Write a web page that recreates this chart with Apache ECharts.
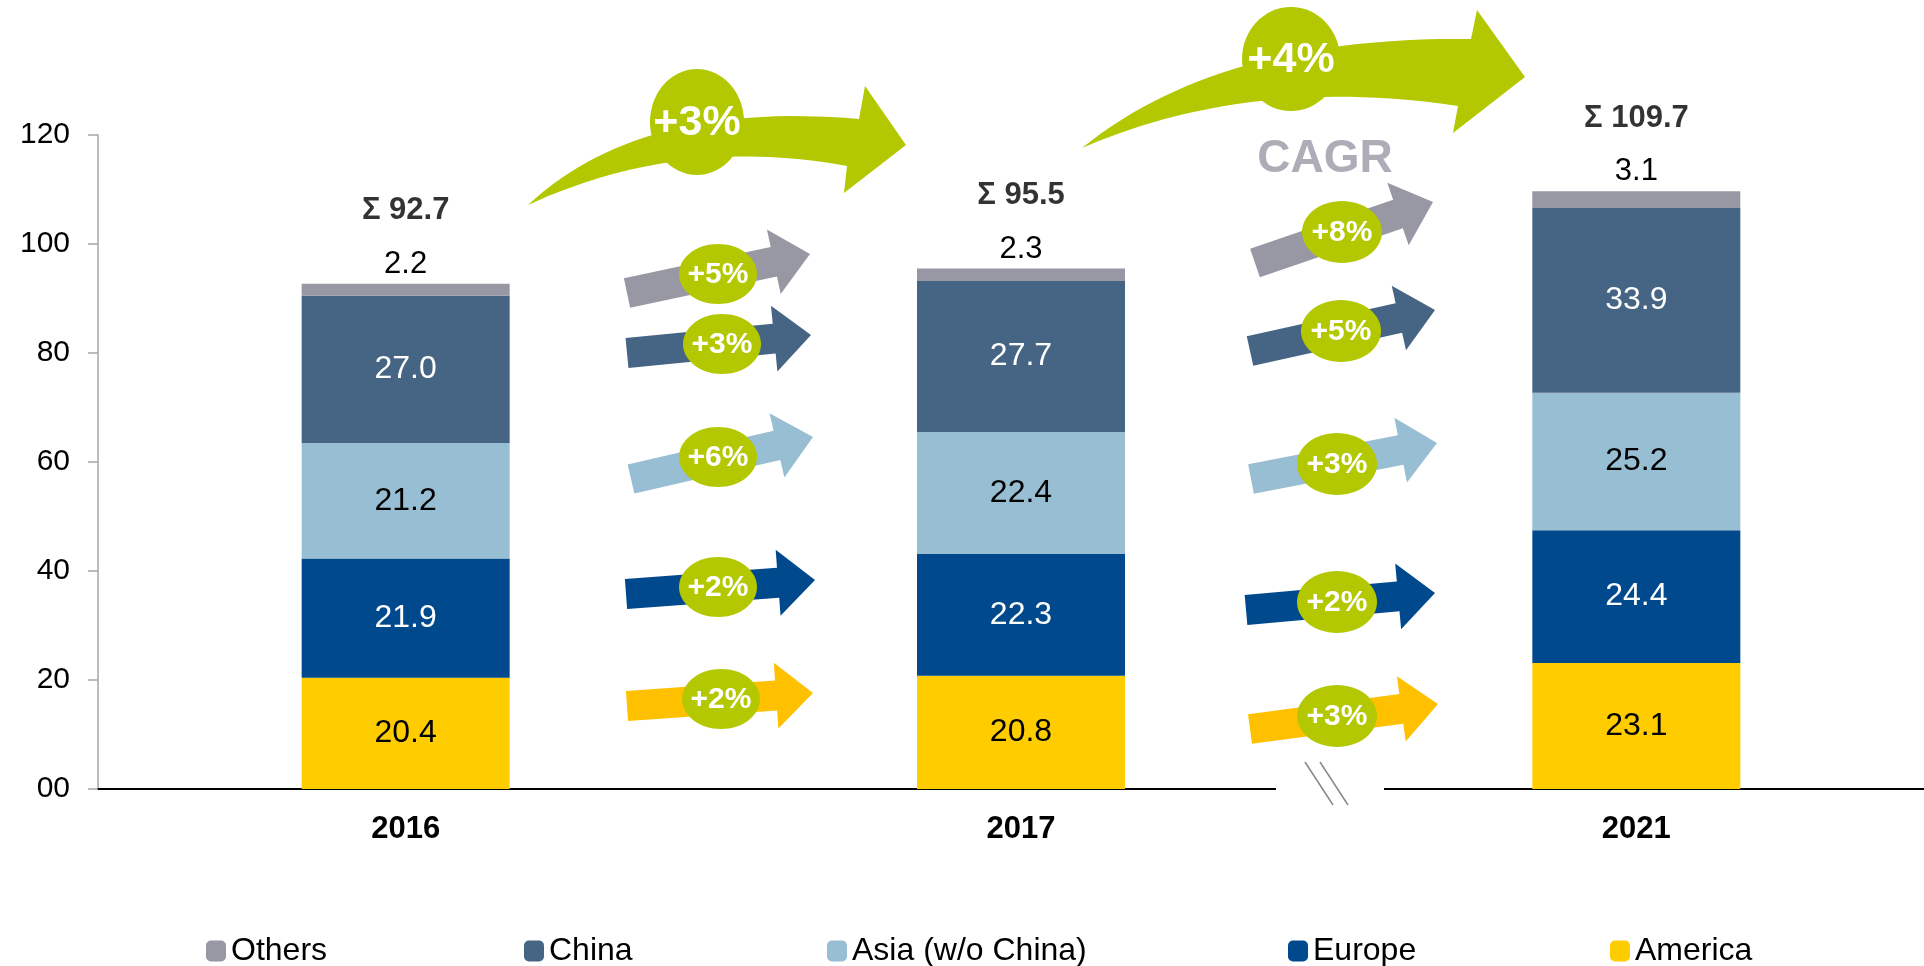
<!DOCTYPE html>
<html>
<head>
<meta charset="utf-8">
<script src="https://cdn.jsdelivr.net/npm/echarts@6/dist/echarts.min.js"></script>
<style>
html,body{margin:0;padding:0;background:#fff;overflow:hidden;width:1924px;height:966px;}
#chart{width:1944px;height:966px;}
</style>
</head>
<body>
<div id="chart"></div>
<script>
// ---- data ----
const categories = ['2016', '2017', '2021'];
const america = [20.4, 20.8, 23.1];
const europe = [21.9, 22.3, 24.4];
const asia = [21.2, 22.4, 25.2];
const china = [27.0, 27.7, 33.9];
const others = [2.2, 2.3, 3.1];
const totals = [92.7, 95.5, 109.7];
const seriesNames = ['Others', 'China', 'Asia (w/o China)', 'Europe', 'America'];
const growth2016to2017 = ['+5%', '+3%', '+6%', '+2%', '+2%']; // Others, China, Asia, Europe, America
const growth2017to2021 = ['+8%', '+5%', '+3%', '+2%', '+3%'];
const totalGrowth = ['+3%', '+4%'];
const cagrLabel = 'CAGR';

// ---- styles / layout ----
const FONT = "'Liberation Sans', Arial, sans-serif";
const colors = {
  'Others': '#9897A4',
  'China': '#466483',
  'Asia (w/o China)': '#97BED2',
  'Europe': '#00498D',
  'America': '#FFCC00'
};
const arrowColors = ['#9897A4', '#466483', '#97BED2', '#00498D', '#FFC000'];
const GREEN = '#B3C800';
const legendLeft = [206, 524, 827, 1288, 1610];

const chart = echarts.init(document.getElementById('chart'));

function segLabel(color) {
  return {
    show: true, position: 'inside', color: color, fontSize: 32, fontFamily: FONT,
    formatter: p => p.value.toFixed(1)
  };
}

function bar(name, data, labelColor, extra) {
  return Object.assign({
    name: name, type: 'bar', stack: 'total', data: data, barWidth: 208,
    itemStyle: { color: colors[name] },
    label: segLabel(labelColor),
    emphasis: { disabled: true }
  }, extra || {});
}

// small straight arrows (decoration): [tailX, tailY, tipX, tipY]
const arrowsCol1 = [[627,293,810,254],[627,353,811,335],[631,479,813,437],[626,594,815,580],[627,706,813,693]];
const badgesCol1 = [[718,274],[722,344],[718,457],[718,587],[721,699]];
const arrowsCol2 = [[1255,263,1433,202],[1250,351,1435,310],[1251,479,1437,443],[1246,610,1435,593],[1250,729,1438,704]];
const badgesCol2 = [[1342,232],[1341,331],[1337,464],[1337,602],[1337,716]];

function arrowPoly(a, color) {
  const [tx, ty, hx, hy] = a;
  const L = Math.hypot(hx - tx, hy - ty);
  const dx = (hx - tx) / L, dy = (hy - ty) / L;
  const nx = -dy, ny = dx;
  const sw = 15, hw = 33, hl = 37;
  const bx = hx - dx * hl, by = hy - dy * hl;
  const pts = [
    [tx + nx * sw, ty + ny * sw],
    [bx + nx * sw, by + ny * sw],
    [bx + nx * hw, by + ny * hw],
    [hx, hy],
    [bx - nx * hw, by - ny * hw],
    [bx - nx * sw, by - ny * sw],
    [tx - nx * sw, ty - ny * sw]
  ];
  return { type: 'polygon', z: 50, shape: { points: pts }, style: { fill: color } };
}
function quad(p0, c, p1, n) {
  const out = [];
  for (let i = 0; i <= n; i++) {
    const t = i / n, u = 1 - t;
    out.push([u * u * p0[0] + 2 * u * t * c[0] + t * t * p1[0], u * u * p0[1] + 2 * u * t * c[1] + t * t * p1[1]]);
  }
  return out;
}
function curvedArrow(tail, cUp, baseTop, outTop, tip, outBot, baseBot, cLow) {
  const pts = quad(tail, cUp, baseTop, 30)
    .concat([outTop, tip, outBot])
    .concat(quad(baseBot, cLow, tail, 30));
  return { type: 'polygon', z: 50, shape: { points: pts }, style: { fill: GREEN } };
}
function badge(c, text, rx, ry, fs) {
  return [
    { type: 'ellipse', z: 51, shape: { cx: c[0], cy: c[1], rx: rx, ry: ry }, style: { fill: GREEN } },
    { type: 'text', z: 52, style: { text: text, x: c[0], y: c[1] + 1, align: 'center', verticalAlign: 'middle',
      fill: '#fff', font: 'bold ' + fs + 'px ' + FONT } }
  ];
}

const graphics = [];
arrowsCol1.forEach((a, i) => { graphics.push(arrowPoly(a, arrowColors[i])); graphics.push(...badge(badgesCol1[i], growth2016to2017[i], 39, 30, 30)); });
arrowsCol2.forEach((a, i) => { graphics.push(arrowPoly(a, arrowColors[i])); graphics.push(...badge(badgesCol2[i], growth2017to2021[i], 40, 31, 30)); });
// big curved arrows
graphics.push(curvedArrow([528,205],[640,100],[859,119],[865,86],[906,145],[844,193],[847,166],[680,135]));
graphics.push(...badge([697, 122], totalGrowth[0], 47, 53, 43));
graphics.push(curvedArrow([1082,148],[1220,36],[1471,39],[1477,10],[1525,77],[1453,133],[1458,106],[1250,75]));
graphics.push(...badge([1291, 59], totalGrowth[1], 49, 52, 43));
graphics.push({ type: 'text', z: 52, style: { text: cagrLabel, x: 1325, y: 159, align: 'center', verticalAlign: 'middle', fill: '#ADADB8', font: 'bold 46px ' + FONT } });
// axis break
graphics.push({ type: 'rect', z: 60, shape: { x: 1276, y: 784, width: 108, height: 10 }, style: { fill: '#fff' } });
graphics.push({ type: 'line', z: 61, shape: { x1: 1305, y1: 762, x2: 1333, y2: 805 }, style: { stroke: '#888', lineWidth: 1.5 } });
graphics.push({ type: 'line', z: 61, shape: { x1: 1320, y1: 762, x2: 1348, y2: 805 }, style: { stroke: '#888', lineWidth: 1.5 } });

const option = {
  backgroundColor: '#fff',
  animation: false,
  textStyle: { fontFamily: FONT },
  grid: { left: 98, top: 135, right: 0, height: 654, containLabel: false },
  legend: seriesNames.map((n, i) => ({
    data: [n], left: legendLeft[i], top: 935, padding: 0, icon: 'roundRect',
    itemWidth: 20, itemHeight: 21, selectedMode: false,
    textStyle: { fontSize: 32, color: '#000', fontFamily: FONT }
  })),
  xAxis: {
    type: 'category', data: categories,
    axisLine: { show: true, lineStyle: { color: '#000', width: 2 } },
    axisTick: { show: false },
    axisLabel: { color: '#000', fontSize: 31, fontWeight: 'bold', margin: 25, fontFamily: FONT }
  },
  yAxis: {
    type: 'value', min: 0, max: 120, interval: 20,
    axisLine: { show: true, lineStyle: { color: '#A6A6A6', width: 1.5 } },
    axisTick: { show: true, length: 10, lineStyle: { color: '#A6A6A6', width: 1.5 } },
    splitLine: { show: false },
    axisLabel: { color: '#000', fontSize: 30, margin: 28, fontFamily: FONT,
      formatter: v => (v === 0 ? '00' : String(v)) }
  },
  series: [
    bar('America', america, '#000'),
    bar('Europe', europe, '#fff'),
    bar('Asia (w/o China)', asia, '#000'),
    bar('China', china, '#fff'),
    bar('Others', others, '#000', {
      label: { show: true, position: 'top', distance: 4, color: '#000', fontSize: 31, fontFamily: FONT,
        formatter: p => p.value.toFixed(1) }
    }),
    {
      name: 'Total', type: 'scatter', data: totals, symbolSize: 1, z: 5,
      itemStyle: { color: 'rgba(0,0,0,0)' },
      label: { show: true, position: 'top', distance: 57, color: '#000', fontSize: 31, fontWeight: 'bold',
        fontFamily: FONT, formatter: p => 'Σ ' + p.value.toFixed(1) },
      emphasis: { disabled: true }
    }
  ],
  graphic: graphics
};
chart.setOption(option);
</script>
</body>
</html>
